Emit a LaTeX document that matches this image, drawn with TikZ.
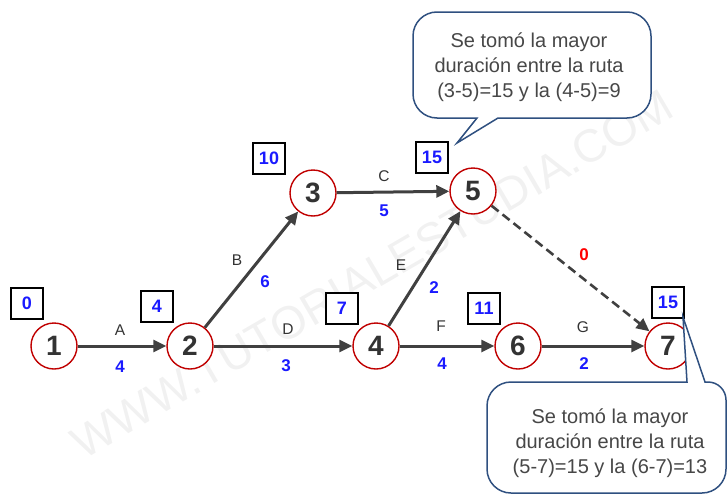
\documentclass[tikz,border=0pt]{standalone}
\usepackage{fontspec}
\setmainfont{Liberation Sans}
\usetikzlibrary{arrows.meta}
\definecolor{nodered}{HTML}{C00000}
\definecolor{edgegray}{HTML}{404040}
\definecolor{numblue}{HTML}{1A1AFF}
\definecolor{callblue}{HTML}{2F5080}
\definecolor{txtgray}{HTML}{333333}
\tikzset{
  ev/.style={circle, draw=nodered, line width=1.4pt, fill=white, minimum size=46pt, inner sep=0pt,
             font=\fontsize{28}{28}\selectfont\bfseries, text=txtgray},
  tbox/.style={draw=black, line width=2pt, fill=white, minimum width=32pt, minimum height=31pt, inner sep=0pt,
             font=\fontsize{18}{18}\selectfont\bfseries, text=numblue},
  act/.style={draw=edgegray, line width=3pt, -{Triangle[length=13pt,width=12pt]}},
  lett/.style={font=\fontsize{15.5}{15.5}\selectfont, text=txtgray, inner sep=0pt},
  dur/.style={font=\fontsize{17}{17}\selectfont\bfseries, text=numblue, inner sep=0pt},
  callout/.style={draw=callblue, line width=1.5pt, fill=white},
  calltext/.style={font=\fontsize{20}{25}\selectfont, text=txtgray!90, align=center, inner sep=0pt},
}
\begin{document}
\begin{tikzpicture}[x=1pt,y=-1pt]
\useasboundingbox (0,0) rectangle (728,498);
% watermark
\node[rotate=30.2, font=\fontsize{46}{46}\selectfont, text=gray!11] (wm) at (372,274) {WWW.TUTORIALESTUDIA.COM};
% event nodes
\node[ev] (n1) at (54,346) {1};
\node[ev] (n2) at (190,346) {2};
\node[ev] (n3) at (313,193) {3};
\node[ev] (n4) at (376,346) {4};
\node[ev] (n5) at (473,191) {5};
\node[ev] (n6) at (518,346) {6};
\node[ev] (n7) at (668,346) {7};
% time boxes
\node[tbox] (b1) at (27,303) {0};
\node[tbox] (b2) at (157,306) {4};
\node[tbox] (b3) at (269,158) {10};
\node[tbox] (b5) at (432,157) {15};
\node[tbox] (b4) at (342,308) {7};
\node[tbox] (b6) at (484,308) {11};
\node[tbox] (b7) at (668,302) {15};
% activities
\draw[act] (n1) -- (n2);
\draw[act] (n2) -- (n3);
\draw[act] (n3) -- (n5);
\draw[act] (n2) -- (n4);
\draw[act] (n4) -- (n5);
\draw[act] (n4) -- (n6);
\draw[act] (n6) -- (n7);
\draw[act, line width=2.6pt, dash pattern=on 9pt off 5pt] (n5) -- (n7);
% labels
\node[lett] (lA) at (120,330) {A};
\node[dur]  (dA) at (120,367) {4};
\node[lett] (lB) at (237,260) {B};
\node[dur]  (dB) at (265,282) {6};
\node[lett] (lC) at (384,176) {C};
\node[dur]  (dC) at (384,211) {5};
\node[lett] (lD) at (288,329) {D};
\node[dur]  (dD) at (286,366) {3};
\node[lett] (lE) at (401,265) {E};
\node[dur]  (dE) at (434,288) {2};
\node[lett] (lF) at (441,326) {F};
\node[dur]  (dF) at (442,364) {4};
\node[lett] (lG) at (583,327) {G};
\node[dur]  (dG) at (584,364) {2};
\node[dur, text=red] (d0) at (584,255) {0};
% callout 1
\draw[callout] (560,118) -- (498,118) -- (457,143) -- (477,118) [rounded corners=24pt] -- (413,118) -- (413,12) -- (651,12) -- (651,118) -- cycle;
\node[calltext] (t1) at (529,67) {Se tomó la mayor\\duración entre la ruta\\(3-5)=15 y la (4-5)=9};
% callout 2
\draw[callout] (600,382) -- (687,382) -- (683,317) -- (705,382) [rounded corners=18pt] -- (726,382) [rounded corners=24pt] -- (726,493) -- (487,493) -- (487,382) -- cycle;
\node[calltext] (t2) at (610,443) {Se tomó la mayor\\duración entre la ruta\\(5-7)=15 y la (6-7)=13};
\end{tikzpicture}
\end{document}
